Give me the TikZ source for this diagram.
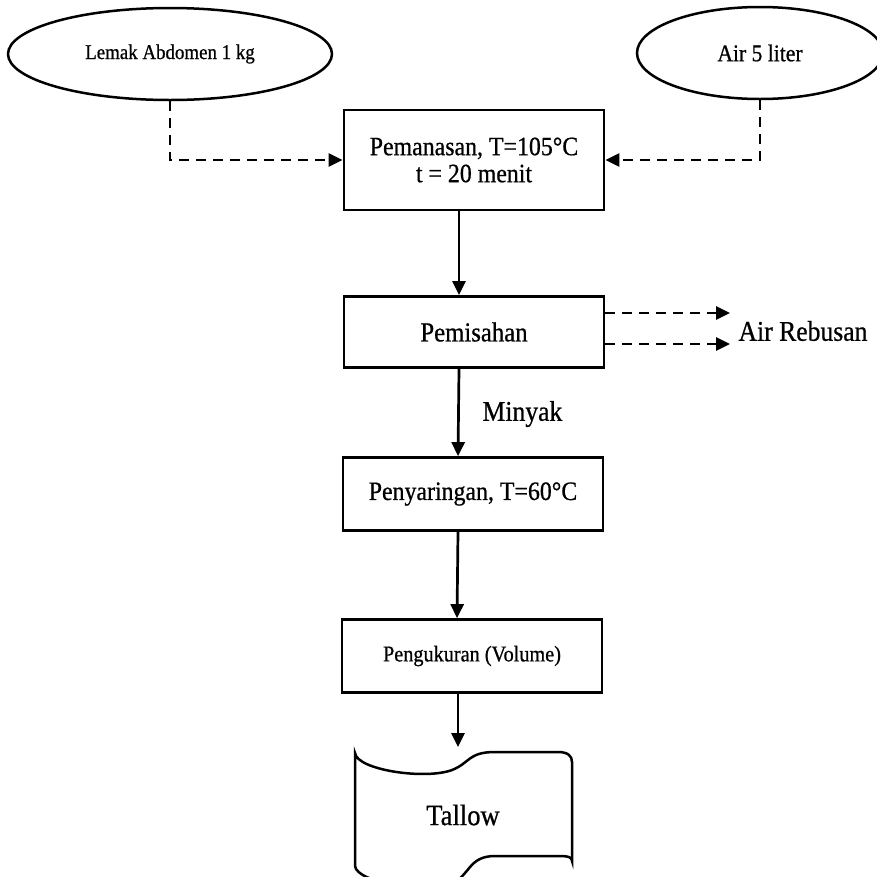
\documentclass[tikz,border=0pt]{standalone}
\usepackage{fontspec}
\setmainfont{Liberation Serif}[FakeStretch=0.9,FakeBold=0.7]
\usetikzlibrary{shapes.geometric,arrows.meta}

\begin{document}
\begin{tikzpicture}[x=1pt,y=1pt,
	proses/.style={draw,line width=2.7pt,minimum width=260pt,inner sep=0pt},
	bahan/.style={draw,ellipse,line width=2.5pt,inner sep=0pt,minimum height=92pt},
	alir/.style={line width=2.7pt,-{Triangle[length=14pt,width=13pt]}},
	sisa/.style={alir,dash pattern=on 10pt off 7pt}]

	\useasboundingbox (0,0) rectangle (877,-876);

	\node[bahan,minimum width=324pt,font=\fontsize{21}{24}\selectfont] (lemak) at (170,-54) {Lemak Abdomen 1 kg};
	\node[bahan,minimum width=246pt,font=\fontsize{24}{27}\selectfont] (air) at (760,-53) {Air 5 liter};

	\node[proses,minimum height=100pt,align=center,font=\fontsize{26.5}{27}\selectfont] (panas) at (474,-160) {Pemanasan, T=105°C\\t = 20 menit};
	\node[proses,minimum height=71pt,font=\fontsize{27.5}{30}\selectfont] (pisah) at (474,-332) {Pemisahan};
	\node[proses,minimum height=73pt,font=\fontsize{26.5}{29}\selectfont] (saring) at (473,-494) {Penyaringan, T=60°C};
	\node[proses,minimum height=73pt,font=\fontsize{22.5}{26}\selectfont] (ukur) at (472,-656) {Pengukuran (Volume)};

	\node[anchor=west,font=\fontsize{28.5}{32}\selectfont] (rebus) at (735,-331) {Air Rebusan};
	\node[anchor=west,font=\fontsize{28.5}{32}\selectfont] (minyak) at (479,-414) {Minyak};
	\node[font=\fontsize{29.5}{32}\selectfont] (tallow) at (463,-815) {Tallow};

	\coordinate (r1) at (730,-313);
	\coordinate (r2) at (730,-344);
	\coordinate (tin) at (458,-747);

	% bahan masuk
	\draw[sisa] (lemak.south) |- (panas.west);
	\draw[sisa] (air.south) |- (panas.east);

	% alur utama
	\foreach \a / \b in {
	panas/pisah,
	pisah/saring,
	saring/ukur}
	{
		\draw[alir] ([xshift=-15pt]\a.south) -- ([xshift=-15pt]\b.north);
	};
	\draw[alir] ([xshift=-14pt]ukur.south) -- (tin);

	% air rebusan
	\draw[sisa] (pisah.east |- r1) -- (r1);
	\draw[sisa] (pisah.east |- r2) -- (r2);

	% tallow
	\draw[line width=2.5pt] (355,-753) .. controls (357,-770) and (425,-780) .. (452,-770)
		.. controls (470,-763) and (468,-752) .. (495,-752)
		-- (558,-752) .. controls (568,-752) and (572,-756) .. (572,-762)
		-- (572,-861) .. controls (572,-857) and (568,-856) .. (558,-856)
		-- (495,-856) .. controls (468,-856) and (470,-876) .. (452,-883)
		.. controls (425,-893) and (357,-883) .. (355,-866) -- cycle;
\end{tikzpicture}
\end{document}
